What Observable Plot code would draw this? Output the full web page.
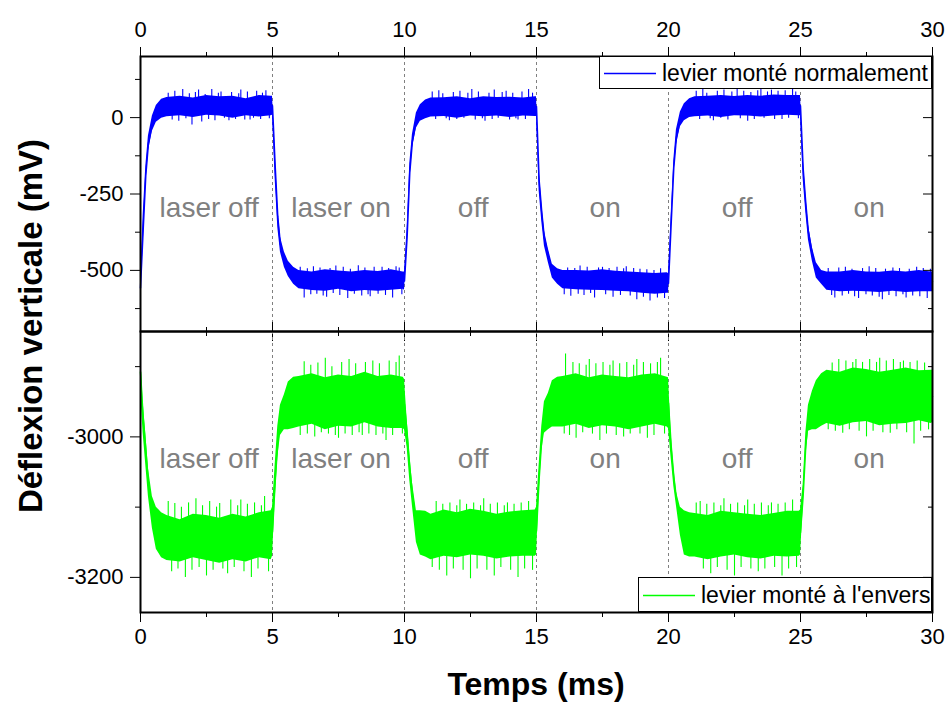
<!DOCTYPE html>
<html><head><meta charset="utf-8">
<script src="https://cdn.jsdelivr.net/npm/d3@7"></script>
<script src="https://cdn.jsdelivr.net/npm/@observablehq/plot@0.6"></script>
<style>
body{margin:0;background:#fff;}
#wrap{position:relative;width:948px;height:702px;background:#fff;font-family:"Liberation Sans",Arial,sans-serif;color:#000;}
#wrap > svg{position:absolute;left:0;overflow:visible;}
.legend{position:absolute;background:#fff;border:1px solid #000;box-sizing:border-box;font-size:23px;white-space:nowrap;}
.legend svg{position:absolute;left:0;top:0;}
.legend span{position:absolute;top:50%;transform:translateY(-50%);}
.ytitle{position:absolute;left:31px;top:326px;transform:translate(-50%,-50%) rotate(-90deg);font-weight:bold;font-size:33px;white-space:nowrap;}
.xtitle{position:absolute;left:536px;top:684px;transform:translate(-50%,-50%);font-weight:bold;font-size:32px;white-space:nowrap;}
</style>
</head><body>
<div id="wrap"></div>
<script>
// time axis (ms)
const t = [
 0,0.1,0.2,0.3,0.45,0.6,0.8,1,1.5,2,2.5,3,3.5,4,4.5,4.95,
 5,5.1,5.2,5.3,5.45,5.6,5.8,6,6.5,7,7.5,8,8.5,9,9.5,9.95,
 10,10.1,10.2,10.3,10.45,10.6,10.8,11,11.5,12,12.5,13,13.5,14,14.5,14.95,
 15,15.1,15.2,15.3,15.45,15.6,15.8,16,16.5,17,17.5,18,18.5,19,19.5,19.95,
 20,20.1,20.2,20.3,20.45,20.6,20.8,21,21.5,22,22.5,23,23.5,24,24.5,24.95,
 25,25.1,25.2,25.3,25.45,25.6,25.8,26,26.5,27,27.5,28,28.5,29,29.5,29.95,
 30];
// "levier monté normalement" — lower / upper edge of the dense noisy trace (mV)
const topLo = [
 -575,-420,-220,-110,-45,-15,-2,3,6,0,8,5,-2,6,2,6,
 8,-200,-360,-440,-490,-520,-545,-560,-566,-568,-562,-570,-566,-568,-565,-562,
 -565,-420,-210,-100,-35,-12,-4,2,4,-2,5,3,5,0,5,4,
 4,-240,-340,-420,-475,-525,-545,-560,-563,-565,-566,-568,-570,-575,-578,-575,
 -575,-380,-190,-90,-30,-10,0,3,5,0,6,5,2,5,8,6,
 6,-200,-310,-400,-470,-525,-545,-565,-570,-568,-570,-572,-568,-572,-570,-570,
 -570];
const topHi = [
 -540,-320,-160,-60,5,40,60,66,70,64,72,68,70,62,72,70,
 70,-110,-290,-390,-440,-470,-490,-500,-505,-498,-502,-505,-500,-504,-498,-505,
 -505,-360,-150,-55,15,42,58,64,65,68,62,68,66,67,64,68,
 68,-170,-280,-370,-430,-480,-495,-500,-500,-502,-498,-503,-505,-508,-510,-508,
 -510,-320,-140,-40,18,45,62,68,70,72,69,72,70,74,72,72,
 72,-130,-250,-350,-425,-475,-500,-505,-505,-500,-505,-506,-502,-505,-500,-505,
 -505];
// "levier monté à l'envers" — lower / upper edge (mV)
const botLo = [
 -2935,-2995,-3040,-3085,-3130,-3160,-3172,-3176,-3178,-3172,-3176,-3180,-3175,-3178,-3172,-3175,
 -3170,-3090,-3030,-2998,-2990,-2990,-2988,-2986,-2982,-2990,-2985,-2986,-2980,-2986,-2988,-2988,
 -2990,-3015,-3062,-3098,-3150,-3168,-3171,-3175,-3170,-3172,-3168,-3170,-3174,-3171,-3170,-3170,
 -3168,-3080,-3020,-2995,-2990,-2986,-2986,-2986,-2982,-2988,-2984,-2986,-2990,-2986,-2982,-2986,
 -2988,-3030,-3070,-3098,-3140,-3168,-3171,-3171,-3175,-3171,-3168,-3172,-3174,-3170,-3171,-3170,
 -3168,-3100,-3030,-2992,-2990,-2990,-2985,-2981,-2985,-2980,-2978,-2984,-2982,-2981,-2977,-2981,
 -2980];
const botHi = [
 -2880,-2950,-2995,-3045,-3085,-3100,-3108,-3112,-3118,-3110,-3112,-3116,-3110,-3114,-3108,-3105,
 -3100,-3040,-2985,-2955,-2940,-2922,-2915,-2914,-2910,-2916,-2912,-2914,-2908,-2914,-2912,-2915,
 -2918,-2975,-3025,-3065,-3105,-3105,-3106,-3110,-3104,-3108,-3103,-3106,-3110,-3107,-3105,-3104,
 -3100,-3040,-2985,-2950,-2938,-2920,-2915,-2914,-2910,-2916,-2912,-2914,-2916,-2912,-2910,-2915,
 -2916,-2995,-3042,-3078,-3100,-3105,-3108,-3109,-3112,-3106,-3108,-3110,-3112,-3109,-3106,-3106,
 -3104,-3068,-2995,-2955,-2935,-2920,-2910,-2905,-2908,-2902,-2904,-2908,-2905,-2902,-2906,-2905,
 -2905];
// noise excursions: [time (ms), extreme value (mV)]
const topSpikes = [
 [1.05,80],[1.2,-8],[1.3,86],[1.45,-12],[1.6,92],[1.72,-4],[1.85,78],[1.95,-24],[2.08,82],[2.2,90],[2.32,-14],[2.45,76],[2.58,-6],[2.7,92],[2.82,-10],[2.95,80],[3.05,84],[3.18,-2],[3.35,-10],[3.45,82],[3.6,-6],[3.72,78],[3.8,90],[3.95,-8],[4.05,84],[4.15,-8],[4.28,-2],[4.4,86],[4.55,-6],[4.62,80],[4.75,88],[4.88,-4],
 [6.05,-490],[6.2,-590],[6.32,-495],[6.45,-580],[6.55,-488],[6.68,-578],[6.8,-492],[6.92,-584],[7.05,-588],[7.18,-494],[7.3,-576],[7.4,-486],[7.55,-582],[7.68,-490],[7.85,-592],[7.95,-496],[8.1,-578],[8.25,-485],[8.38,-584],[8.5,-492],[8.62,-580],[8.7,-586],[8.85,-490],[9.0,-578],[9.15,-490],[9.28,-582],[9.4,-494],[9.55,-590],[9.68,-488],[9.8,-492],[9.9,-580],
 [11.05,84],[11.18,-6],[11.3,88],[11.45,78],[11.58,-4],[11.7,-10],[11.85,82],[11.98,-6],[12.1,86],[12.25,-2],[12.4,80],[12.55,92],[12.68,-8],[12.8,84],[12.95,-4],[13.05,-12],[13.2,80],[13.32,-6],[13.4,90],[13.55,-2],[13.7,82],[13.85,86],[13.98,-8],[14.1,80],[14.22,-4],[14.3,-8],[14.45,84],[14.58,-6],[14.7,92],[14.85,80],
 [16.05,-580],[16.18,-492],[16.3,-585],[16.45,-494],[16.58,-578],[16.65,-486],[16.8,-582],[16.92,-490],[17.05,-576],[17.2,-590],[17.35,-492],[17.5,-490],[17.62,-580],[17.75,-494],[17.9,-588],[18.05,-490],[18.18,-582],[18.3,-495],[18.4,-488],[18.55,-584],[18.68,-494],[18.8,-596],[18.92,-496],[19.05,-588],[19.18,-498],[19.3,-600],[19.45,-500],[19.58,-590],[19.7,-495],[19.85,-592],
 [21.05,86],[21.18,-6],[21.3,92],[21.45,80],[21.58,-4],[21.7,-10],[21.85,86],[21.98,-2],[22.1,90],[22.25,-8],[22.4,84],[22.6,96],[22.72,-4],[22.85,86],[23.0,-12],[23.12,82],[23.25,-6],[23.38,88],[23.5,92],[23.62,-2],[23.75,84],[23.9,90],[24.02,-6],[24.15,86],[24.3,-6],[24.42,88],[24.55,-2],[24.7,94],[24.82,84],[24.92,-4],
 [26.05,-494],[26.18,-582],[26.3,-590],[26.45,-492],[26.58,-584],[26.7,-490],[26.82,-578],[26.95,-496],[27.05,-586],[27.2,-592],[27.35,-494],[27.48,-580],[27.6,-488],[27.72,-584],[27.85,-494],[27.98,-588],[28.1,-596],[28.22,-496],[28.35,-582],[28.5,-492],[28.62,-586],[28.75,-494],[28.88,-580],[29.0,-590],[29.12,-496],[29.25,-584],[29.4,-490],[29.52,-586],[29.65,-494],[29.8,-592],[29.92,-496]
];
const botSpikes = [
 [1.05,-3092],[1.18,-3192],[1.3,-3095],[1.42,-3188],[1.55,-3100],[1.7,-3200],[1.82,-3094],[1.95,-3190],[2.1,-3088],[2.22,-3186],[2.35,-3098],[2.5,-3198],[2.62,-3092],[2.75,-3190],[2.88,-3100],[3.0,-3095],[3.12,-3188],[3.3,-3195],[3.42,-3090],[3.55,-3186],[3.68,-3098],[3.8,-3090],[3.92,-3192],[4.05,-3096],[4.2,-3200],[4.32,-3094],[4.45,-3188],[4.58,-3098],[4.7,-3085],[4.85,-3192],
 [6.05,-2998],[6.2,-2893],[6.32,-2996],[6.45,-2898],[6.6,-3000],[6.72,-2895],[6.85,-2994],[7.0,-2888],[7.12,-2996],[7.25,-2900],[7.38,-2998],[7.5,-3002],[7.62,-2894],[7.75,-2996],[7.9,-2890],[8.02,-2998],[8.15,-2896],[8.28,-2994],[8.4,-2998],[8.52,-2894],[8.65,-2996],[8.8,-2892],[8.92,-2998],[9.05,-2896],[9.18,-2996],[9.3,-3005],[9.42,-2892],[9.55,-2998],[9.68,-2894],[9.8,-2885],[9.92,-2996],
 [11.05,-3186],[11.2,-3092],[11.32,-3190],[11.45,-3096],[11.6,-3198],[11.72,-3094],[11.85,-3188],[11.98,-3098],[12.1,-3090],[12.22,-3190],[12.35,-3096],[12.5,-3202],[12.62,-3094],[12.75,-3188],[12.88,-3098],[13.0,-3088],[13.12,-3190],[13.25,-3096],[13.4,-3198],[13.52,-3094],[13.65,-3186],[13.78,-3098],[13.9,-3094],[14.02,-3190],[14.15,-3096],[14.3,-3200],[14.42,-3094],[14.55,-3188],[14.7,-3092],[14.85,-3190],
 [16.05,-2996],[16.1,-2882],[16.25,-2998],[16.38,-2894],[16.5,-3002],[16.62,-2896],[16.75,-2994],[16.88,-2898],[17.0,-2890],[17.12,-2996],[17.25,-2896],[17.4,-3005],[17.52,-2894],[17.65,-2996],[17.78,-2898],[17.9,-2892],[18.02,-2998],[18.15,-2896],[18.3,-3000],[18.42,-2894],[18.55,-2996],[18.68,-2898],[18.8,-2890],[18.92,-2996],[19.05,-2894],[19.2,-3002],[19.32,-2896],[19.45,-2998],[19.58,-2894],[19.7,-2888],[19.85,-2996],
 [21.05,-3094],[21.2,-3092],[21.32,-3188],[21.45,-3096],[21.6,-3195],[21.72,-3094],[21.85,-3186],[21.98,-3098],[22.1,-3088],[22.22,-3190],[22.35,-3096],[22.5,-3198],[22.62,-3094],[22.75,-3186],[22.88,-3098],[23.0,-3090],[23.12,-3188],[23.25,-3096],[23.4,-3192],[23.52,-3094],[23.65,-3188],[23.78,-3098],[23.9,-3094],[24.02,-3186],[24.15,-3096],[24.3,-3198],[24.42,-3094],[24.55,-3188],[24.7,-3090],[24.85,-3186],
 [26.05,-2990],[26.2,-2895],[26.32,-2992],[26.45,-2890],[26.6,-2995],[26.72,-2892],[26.85,-2990],[26.98,-2894],[27.1,-2890],[27.22,-2992],[27.35,-2894],[27.5,-3000],[27.62,-2890],[27.75,-2992],[27.88,-2894],[28.0,-2888],[28.12,-2994],[28.25,-2892],[28.4,-2995],[28.52,-2890],[28.65,-2990],[28.78,-2894],[28.9,-2892],[29.02,-2994],[29.15,-2894],[29.3,-3010],[29.42,-2892],[29.55,-2992],[29.7,-2895],[29.85,-2990]
];
const switchTimes = [5, 10, 15, 20, 25];
const phaseTimes = [2.6, 7.6, 12.6, 17.6, 22.6, 27.6];
const phaseLabels = ["laser off", "laser on", "off", "on", "off", "on"];
const xMajor = [0, 5, 10, 15, 20, 25, 30];
const xMinor = [2.5, 7.5, 12.5, 17.5, 22.5, 27.5];
const topMajor = [-500, -250, 0];
const topMinor = [-625, -375, -125, 125];
const botMajor = [-3200, -3000];
const botMinor = [-3100, -2900];
const legendTop = "levier monté normalement";
const legendBot = "levier monté à l'envers";

const BLUE = "#0000ff", GREEN = "#00ff00";
const topRows = t.map((x, i) => ({t: x, lo: topLo[i], hi: topHi[i]}));
const botRows = t.map((x, i) => ({t: x, lo: botLo[i], hi: botHi[i]}));
const labelRows = phaseTimes.map((x, i) => ({t: x, text: phaseLabels[i]}));
// each excursion starts from the middle of the nearest band sample
function spikeRows(spikes, rows) {
  return spikes.map(([x, v]) => {
    const r = rows[d3.minIndex(rows, d => Math.abs(d.t - x))];
    return {t: x, from: (r.lo + r.hi) / 2, to: v};
  });
}

function panel(rows, spikes, color, yDomain, major, minor, labelY, opts) {
  return Plot.plot({
    width: 948, height: opts.height,
    marginTop: opts.mt, marginBottom: opts.mb, marginLeft: 140, marginRight: 16,
    style: {background: "transparent", fontFamily: "'Liberation Sans', Arial, sans-serif", fontSize: "22px", color: "#000", overflow: "visible"},
    x: {domain: [0, 30]},
    y: {domain: yDomain},
    marks: [
      Plot.ruleX(switchTimes, {x: d => d, stroke: "#808080", strokeWidth: 1, strokeDasharray: "3,3"}),
      Plot.areaY(rows, {x: "t", y1: "lo", y2: "hi", fill: color}),
      Plot.line(rows, {x: "t", y: d => (d.lo + d.hi) / 2, stroke: color, strokeWidth: 1.5}),
      Plot.ruleX(spikeRows(spikes, rows), {x: "t", y1: "from", y2: "to", stroke: color, strokeWidth: 1.1}),
      Plot.text(labelRows, {x: "t", y: () => labelY, text: "text", fill: "#808080", fontSize: 28}),
      Plot.axisX(xMajor, {anchor: "top", tickSize: 10, tickPadding: opts.topLabels ? 10 : 0, fill: opts.topLabels ? "#000" : null, label: null, tickFormat: d => String(d)}),
      Plot.axisX(xMinor, {anchor: "top", tickSize: 5, fill: null, label: null}),
      Plot.axisX(xMajor, {anchor: "bottom", tickSize: 10, tickPadding: 6, fill: opts.bottomLabels ? "#000" : null, label: null, tickFormat: d => String(d)}),
      Plot.axisX(xMinor, {anchor: "bottom", tickSize: 5, fill: null, label: null}),
      Plot.axisY(major, {anchor: "left", tickSize: 10, tickPadding: 7, label: null, tickFormat: d => String(d)}),
      Plot.axisY(minor, {anchor: "left", tickSize: 5, fill: null, label: null}),
      Plot.axisY(major, {anchor: "right", tickSize: -10, fill: null, label: null}),
      Plot.axisY(minor, {anchor: "right", tickSize: -5, fill: null, label: null}),
      Plot.frame({stroke: "#000", strokeWidth: 2})
    ]
  });
}

const wrap = document.getElementById("wrap");
const topPlot = panel(topRows, topSpikes, BLUE, [-700, 200], topMajor, topMinor, -295,
  {height: 345, mt: 56, mb: 14, topLabels: true, bottomLabels: false});
topPlot.style.top = "0px";
wrap.appendChild(topPlot);
const botPlot = panel(botRows, botSpikes, GREEN, [-3250, -2850], botMajor, botMinor, -3031,
  {height: 385, mt: 14, mb: 90, topLabels: false, bottomLabels: true});
botPlot.style.top = "317px";
wrap.appendChild(botPlot);

function legend(left, top, w, h, color, text) {
  const d = document.createElement("div");
  d.className = "legend";
  Object.assign(d.style, {left: left + "px", top: top + "px", width: w + "px", height: h + "px"});
  d.innerHTML = `<svg width="${w}" height="${h}"><line x1="4" x2="56" y1="${h / 2}" y2="${h / 2}" stroke="${color}" stroke-width="1.5"/></svg><span style="left:62px">${text}</span>`;
  wrap.appendChild(d);
}
legend(599, 56, 333, 33, BLUE, legendTop);
legend(638, 577, 294, 35, GREEN, legendBot);

const yt = document.createElement("div"); yt.className = "ytitle"; yt.textContent = "Déflexion verticale (mV)"; wrap.appendChild(yt);
const xt = document.createElement("div"); xt.className = "xtitle"; xt.textContent = "Temps (ms)"; wrap.appendChild(xt);
</script>
</body></html>
